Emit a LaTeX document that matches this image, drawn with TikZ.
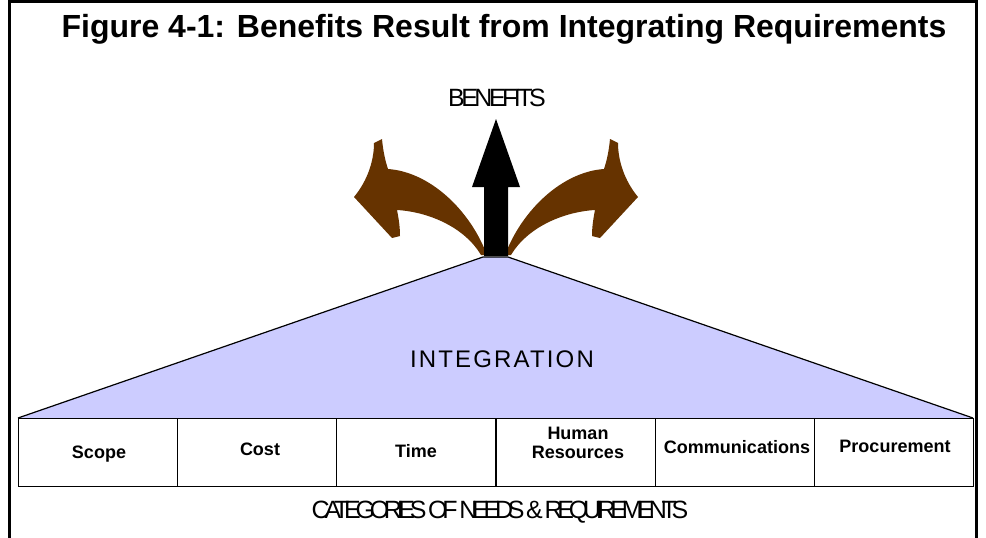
\documentclass[tikz,border=0pt]{standalone}
\usepackage{fontspec}
\setmainfont{Liberation Sans}
\definecolor{arrowbrown}{HTML}{663300}
\definecolor{lavender}{HTML}{CCCCFF}
% Curved brown arrow pointing up and to the left; mirrored for the right one
\newcommand\curvedarrowpath{%
  (481,255) .. controls (465,228) and (430,212) .. (397,210)
  .. controls (399,220) and (400,228) .. (400,236)
  -- (392,238)
  -- (354,197)
  .. controls (368,180) and (374,160) .. (374,143)
  -- (382,139)
  .. controls (383,150) and (385,160) .. (388,169)
  .. controls (430,172) and (470,210) .. (487,255) -- cycle}
\begin{document}
\begin{tikzpicture}[x=1pt,y=-1pt,
  frameline/.style={line width=2.5pt},
  cell/.style={draw, line width=0.9pt, minimum width=159pt, minimum height=68pt,
    inner sep=0pt, anchor=north west},
  celltext/.style={font=\fontsize{18}{19}\selectfont\bfseries, anchor=base,
    align=center, inner sep=0pt},
  caption/.style={font=\fontsize{25}{30}\selectfont, anchor=base, inner sep=0pt},
  brownarrow/.style={fill=arrowbrown, draw=none},
]
\useasboundingbox (0,0) rectangle (986,538);

% open frame around the figure
\draw[frameline] (9.5,538) -- (9.5,1.5) -- (976.5,1.5) -- (976.5,538);

% title
\node[font=\fontsize{32}{36}\selectfont\bfseries, anchor=base, inner sep=0pt]
  (title) at (504,37.5) {Figure 4-1: Benefits Result from Integrating Requirements};

% integration trapezoid
\draw[fill=lavender, line width=1.2pt] (18,418) -- (483,257) -- (508,257) -- (973,418);
\node[font=\fontsize{24}{28}\selectfont\addfontfeatures{LetterSpace=9}, anchor=base, inner sep=0pt]
  (integration) at (502,367) {INTEGRATION};

% benefit arrows
\fill[brownarrow] \curvedarrowpath;
\begin{scope}[xshift=992pt, xscale=-1]
  \fill[brownarrow] \curvedarrowpath;
\end{scope}
\fill[black] (484,256) -- (484,187) -- (472,187) -- (496,119) -- (520,187)
  -- (508,187) -- (508,256) -- cycle;
\node[caption, font=\fontsize{25}{30}\selectfont\addfontfeatures{LetterSpace=-14}]
  (benefits) at (497,106) {BENEFITS};

% categories row
\node[cell] (scope) at (18,418) {};
\node[cell] (cost) at (177,418) {};
\node[cell] (time) at (336,418) {};
\node[cell] (hr) at (496,418) {};
\node[cell] (comm) at (655,418) {};
\node[cell] (proc) at (814,418) {};

\node[celltext] (scopeT) at (99,458) {Scope};
\node[celltext] (costT) at (260,455.5) {Cost};
\node[celltext] (timeT) at (416,457.5) {Time};
\node[celltext] (hrT) at (578,458) {Human\\Resources};
\node[celltext] (commT) at (737,453.5) {Communications};
\node[celltext] (procT) at (895,452) {Procurement};

\node[caption, font=\fontsize{25}{30}\selectfont\addfontfeatures{LetterSpace=-21}]
  (categories) at (500,518) {CATEGORIES OF NEEDS \& REQUIREMENTS};
\end{tikzpicture}
\end{document}
